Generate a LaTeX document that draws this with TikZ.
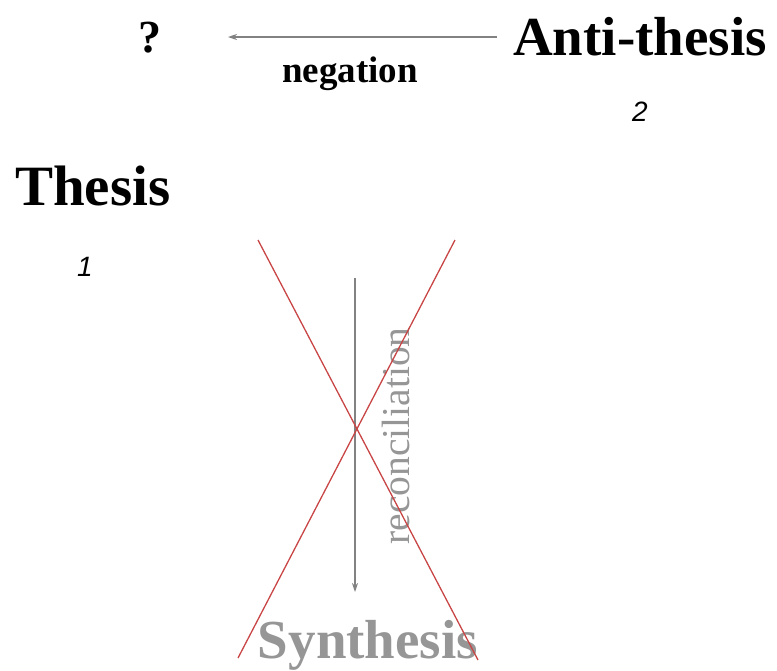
\documentclass[tikz,border=0pt]{standalone}
\usepackage{fontspec}
\setmainfont{Liberation Serif}
\newfontfamily\numfont{Liberation Sans}
\usetikzlibrary{arrows.meta}
\definecolor{arrgray}{RGB}{130,130,130}
\definecolor{txtgray}{RGB}{150,150,150}
\definecolor{crossred}{RGB}{200,70,70}
\tikzset{
  big/.style={font=\fontsize{55}{60}\selectfont\bfseries, inner sep=0pt},
  numlab/.style={font=\numfont\itshape\fontsize{28}{30}\selectfont, inner sep=0pt},
  arr/.style={draw=arrgray, line width=1.1pt, -{Stealth[length=9pt,width=6pt]}},
  cross/.style={draw=crossred, line width=1.3pt},
}
\begin{document}
\begin{tikzpicture}[x=1pt,y=-1pt]
\useasboundingbox (0,0) rectangle (777,670);
\node[big, anchor=base west] (anti) at (513,55) {Anti-thesis};
\node[font=\fontsize{46}{50}\selectfont\bfseries, inner sep=0pt, anchor=base] (q) at (150,52) {?};
\node[numlab, anchor=base] (two) at (640,121) {2};
\node[big, font=\fontsize{57}{60}\selectfont\bfseries, anchor=base west] (thesis) at (15,205) {Thesis};
\node[numlab, anchor=base] (one) at (85,276) {1};
\node[big, text=txtgray, anchor=base] (syn) at (368,658) {Synthesis};
\coordinate (negS) at (497,37);
\coordinate (negE) at (228,37);
\draw[arr] (negS) -- (negE);
\node[font=\fontsize{37}{40}\selectfont\bfseries, inner sep=0pt, anchor=base] (neglab) at (350,82) {negation};
\coordinate (recS) at (355,278);
\coordinate (recE) at (355,592);
\draw[arr] (recS) -- (recE);
\node[rotate=90, text=txtgray, font=\fontsize{39.5}{42}\selectfont, inner sep=0pt] (reclab) at (396,436) {reconciliation};
\draw[cross] (258,240) -- (478,660);
\draw[cross] (455,240) -- (238,658);
\end{tikzpicture}
\end{document}
